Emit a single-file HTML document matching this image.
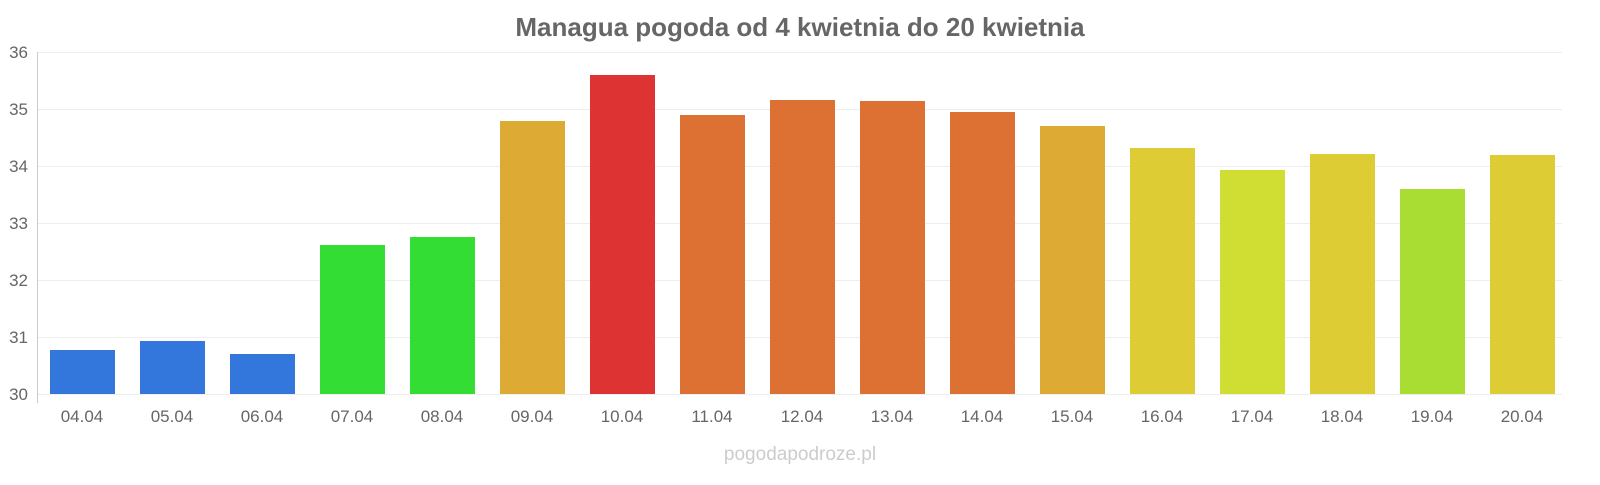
<!DOCTYPE html>
<html><head><meta charset="utf-8"><style>
body{margin:0;background:#fff;}
svg text{font-family:"Liberation Sans",sans-serif;}
</style></head><body>
<svg width="1600" height="480" xmlns="http://www.w3.org/2000/svg">
<text x="800" y="36" text-anchor="middle" font-size="26" font-weight="bold" fill="#666">Managua pogoda od 4 kwietnia do 20 kwietnia</text>
<g stroke="#eee" stroke-width="1">
<line x1="38" x2="1562" y1="52.5" y2="52.5"/>
<line x1="38" x2="1562" y1="109.5" y2="109.5"/>
<line x1="38" x2="1562" y1="166.5" y2="166.5"/>
<line x1="38" x2="1562" y1="223.5" y2="223.5"/>
<line x1="38" x2="1562" y1="280.5" y2="280.5"/>
<line x1="38" x2="1562" y1="337.5" y2="337.5"/>
<line x1="38" x2="1562" y1="394.5" y2="394.5"/>
</g>
<line x1="37.5" x2="37.5" y1="52" y2="403" stroke="#ccc"/>
<g font-size="17" fill="#666" text-anchor="end">
<text x="28" y="58">36</text><text x="28" y="115">35</text><text x="28" y="172">34</text>
<text x="28" y="229">33</text><text x="28" y="286">32</text><text x="28" y="343">31</text><text x="28" y="400">30</text>
</g>
<g>
<rect x="50" y="350" width="65" height="44" fill="#3377dd"/>
<rect x="140" y="341" width="65" height="53" fill="#3377dd"/>
<rect x="230" y="354" width="65" height="40" fill="#3377dd"/>
<rect x="320" y="245" width="65" height="149" fill="#33dd33"/>
<rect x="410" y="237" width="65" height="157" fill="#33dd33"/>
<rect x="500" y="121" width="65" height="273" fill="#ddaa33"/>
<rect x="590" y="75" width="65" height="319" fill="#dd3333"/>
<rect x="680" y="115" width="65" height="279" fill="#dd7033"/>
<rect x="770" y="100" width="65" height="294" fill="#dd7033"/>
<rect x="860" y="101" width="65" height="293" fill="#dd7033"/>
<rect x="950" y="112" width="65" height="282" fill="#dd7033"/>
<rect x="1040" y="126" width="65" height="268" fill="#ddaa33"/>
<rect x="1130" y="148" width="65" height="246" fill="#ddcc33"/>
<rect x="1220" y="170" width="65" height="224" fill="#d0dd33"/>
<rect x="1310" y="154" width="65" height="240" fill="#ddcc33"/>
<rect x="1400" y="189" width="65" height="205" fill="#aadd33"/>
<rect x="1490" y="155" width="65" height="239" fill="#ddcc33"/>
</g>
<g font-size="17" fill="#666" text-anchor="middle">
<text x="82" y="422">04.04</text><text x="172" y="422">05.04</text><text x="262" y="422">06.04</text>
<text x="352" y="422">07.04</text><text x="442" y="422">08.04</text><text x="532" y="422">09.04</text>
<text x="622" y="422">10.04</text><text x="712" y="422">11.04</text><text x="802" y="422">12.04</text>
<text x="892" y="422">13.04</text><text x="982" y="422">14.04</text><text x="1072" y="422">15.04</text>
<text x="1162" y="422">16.04</text><text x="1252" y="422">17.04</text><text x="1342" y="422">18.04</text>
<text x="1432" y="422">19.04</text><text x="1522" y="422">20.04</text>
</g>
<text x="800" y="460" text-anchor="middle" font-size="19" fill="#ccc">pogodapodroze.pl</text>
</svg>
</body></html>
